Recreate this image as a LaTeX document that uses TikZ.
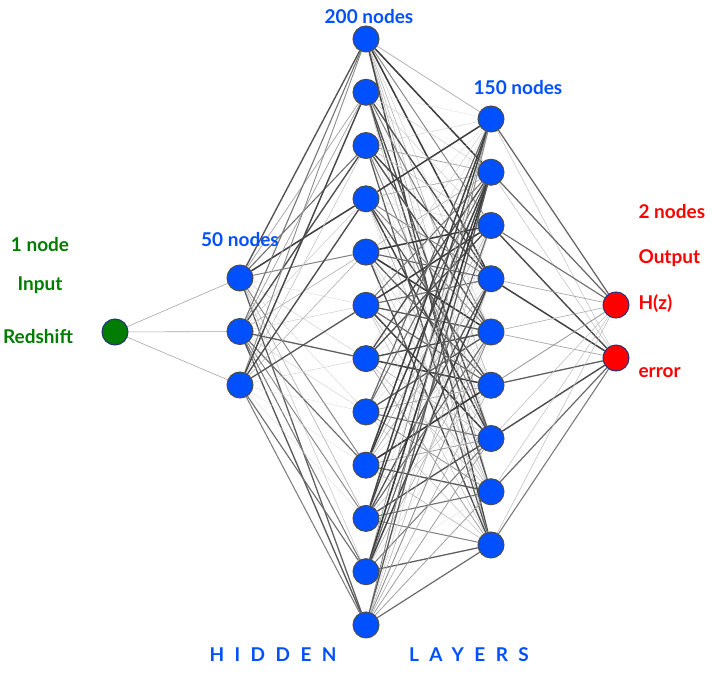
\documentclass[tikz,border=0pt]{standalone}
\usepackage{fontspec}
\setmainfont{Lato}
\usetikzlibrary{backgrounds}
\definecolor{netblue}{RGB}{0,80,255}
\definecolor{netgreen}{RGB}{0,125,0}
\definecolor{netred}{RGB}{255,0,0}
\definecolor{netnavy}{RGB}{40,50,120}
\tikzset{
  neuron/.style={circle,minimum size=26pt,inner sep=0pt,draw=black!70,line width=1pt},
  hidden/.style={neuron,fill=netblue},
  outnode/.style={neuron,fill=netred,draw=netnavy},
}
\begin{document}
\begin{tikzpicture}[x=1pt,y=-1pt,font=\bfseries\fontsize{19}{22}\selectfont]
   \useasboundingbox (0,0) rectangle (712,679);
   \node[neuron,fill=netgreen,draw=netnavy] (in) at (115,332) {};
   \foreach \i in {1,...,3}
      \node[hidden] (a\i) at (240,{278+53.5*(\i-1)}) {};
   \foreach \i in {1,...,12}
      \node[hidden] (b\i) at (366,{39+53.27*(\i-1)}) {};
   \foreach \i in {1,...,9}
      \node[hidden] (c\i) at (491,{119+53.25*(\i-1)}) {};
   \node[outnode] (o1) at (616,305) {};
   \node[outnode] (o2) at (616,358) {};

   % weights
   \begin{pgfonlayer}{background}
    \pgfmathsetseed{17}
    \foreach \i in {1,...,3}
      \draw[black!35,line width=0.6pt] (in) -- (a\i);
    \foreach \i in {1,...,3}
      \foreach \j in {1,...,12} {
        \pgfmathsetmacro\w{rnd}
        \pgfmathsetmacro\shade{12+66*\w}
        \draw[black!\shade,line width={0.3+1.3*\w}] (a\i) -- (b\j);
      }
    \foreach \i in {1,...,12}
      \foreach \j in {1,...,9} {
        \pgfmathsetmacro\w{rnd}
        \pgfmathsetmacro\shade{12+66*\w}
        \draw[black!\shade,line width={0.3+1.3*\w}] (b\i) -- (c\j);
      }
    \foreach \i in {1,...,9}
      \foreach \j in {1,2} {
        \pgfmathsetmacro\w{rnd}
        \pgfmathsetmacro\shade{12+66*\w}
        \draw[black!\shade,line width={0.3+1.3*\w}] (c\i) -- (o\j);
      }
   \end{pgfonlayer}

   % texts
   \node[text=netgreen] (innum) at (40,245) {1 node};
   \node[text=netgreen] (inname) at (40,285) {Input};
   \node[text=netgreen] (invar) at (38,337) {Redshift};
   \node[text=netblue] (anum) at (240,240) {50 nodes};
   \node[text=netblue] (bnum) at (369,17) {200 nodes};
   \node[text=netblue] (cnum) at (518,88) {150 nodes};
   \node[text=netred,anchor=west] (onum) at (635,212) {2 nodes};
   \node[text=netred,anchor=west] (oname) at (635,258) {Output};
   \node[text=netred,anchor=west] (ovar) at (635,304) {H(z)};
   \node[text=netred,anchor=west] (oerr) at (635,373) {error};
   \node[text=netblue] (hid) at (273,655) {\addfontfeatures{LetterSpace=55}HIDDEN};
   \node[text=netblue] (lay) at (469,655) {\addfontfeatures{LetterSpace=55}LAYERS};
\end{tikzpicture}
\end{document}
